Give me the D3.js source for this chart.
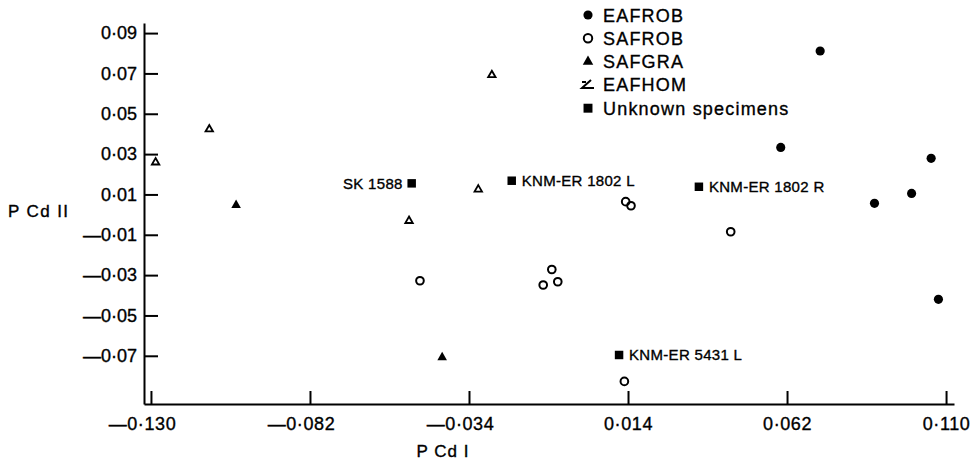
<!DOCTYPE html>
<html>
<head>
<meta charset="utf-8">
<script src="https://cdn.jsdelivr.net/npm/d3@7"></script>
<style>
  body { margin: 0; background: #fff; }
  text { font-family: "Liberation Sans", Arial, sans-serif; fill: #000; stroke: #000; stroke-width: 0.35px; }
  .axis path, .axis line { stroke: #000; stroke-width: 2; }
</style>
</head>
<body>
<div id="chart"></div>
<script>
// values: [P Cd I, P Cd II]
const eafrob = [[0.0720, 0.0811], [0.0601, 0.0333], [0.1055, 0.0279], [0.0996, 0.0105], [0.0884, 0.0056], [0.1077, -0.0420]];
const safrob = [[0.0133, 0.0064], [0.0149, 0.0044], [-0.0488, -0.0328], [-0.0090, -0.0272], [-0.0116, -0.0349], [-0.0072, -0.0333], [0.0450, -0.0085], [0.0129, -0.0827]];
const safgra = [[-0.1043, 0.0047], [-0.0421, -0.0708]];
const eafhom = [[-0.1286, 0.0259], [-0.1124, 0.0423], [-0.0271, 0.0692], [-0.0312, 0.0125], [-0.0521, -0.0031]];

const unknownNames = ["SK 1588", "KNM-ER 1802 L", "KNM-ER 1802 R", "KNM-ER 5431 L"];
const unknownX = [-0.0513, -0.0211, 0.0354, 0.0113];
const unknownY = [0.0155, 0.0168, 0.0138, -0.0696];

const xTicks = [-0.130, -0.082, -0.034, 0.014, 0.062, 0.110];
const yTicks = [0.09, 0.07, 0.05, 0.03, 0.01, -0.01, -0.03, -0.05, -0.07];
const legendNames = ["EAFROB", "SAFROB", "SAFGRA", "EAFHOM", "Unknown specimens"];

const width = 978, height = 465;

const xScale = d3.scaleLinear().domain([-0.1321, 0.1124]).range([144, 954]);
const yScale = d3.scaleLinear().domain([-0.0939, 0.095]).range([404, 23]);

// old-style labels: centred dot and long dash
function fmt(v, digits) {
    const s = Math.abs(v).toFixed(digits).replace(".", "\u00b7");
    return v < 0 ? "\u2014" + s : s;
}

const svg = d3.select("#chart").append("svg")
    .attr("width", width)
    .attr("height", height);

// axes, ticks pointing inward
svg.append("g")
    .attr("class", "axis")
    .attr("transform", `translate(0,${yScale.range()[0]})`)
    .call(d3.axisBottom(xScale).tickValues(xTicks).tickSizeInner(-13).tickSizeOuter(0)
        .tickPadding(13).tickFormat(d => fmt(d, 3)))
    .call(g => g.selectAll("text")
        .attr("font-size", 18)
        .attr("font-family", null)
        .attr("dx", d => d < 0 ? -9 : 0)   // digits sit on the tick, the dash hangs left
        .style("letter-spacing", "0.6px"));

svg.append("g")
    .attr("class", "axis")
    .attr("transform", `translate(${xScale.range()[0]},0)`)
    .call(d3.axisLeft(yScale).tickValues(yTicks).tickSizeInner(-14).tickSizeOuter(0)
        .tickPadding(7).tickFormat(d => fmt(d, 2)))
    .call(g => g.selectAll("text").attr("font-size", 18).attr("font-family", null));

svg.append("text")
    .attr("x", 443)
    .attr("y", 457)
    .attr("text-anchor", "middle")
    .attr("font-size", 17)
    .style("letter-spacing", "1px")
    .text("P Cd I");

svg.append("text")
    .attr("x", 8)
    .attr("y", 217)
    .attr("font-size", 17)
    .style("letter-spacing", "1.4px")
    .text("P Cd II");

// points
const circle = d3.symbol().type(d3.symbolCircle);
const triangle = d3.symbol().type(d3.symbolTriangle);
const square = d3.symbol().type(d3.symbolSquare);

svg.append("g").selectAll("path")
    .data(eafrob)
    .join("path")
    .attr("transform", d => `translate(${xScale(d[0])},${yScale(d[1])})`)
    .attr("d", circle.size(66)())
    .attr("fill", "#000");

svg.append("g").selectAll("path")
    .data(safrob)
    .join("path")
    .attr("transform", d => `translate(${xScale(d[0])},${yScale(d[1])})`)
    .attr("d", circle.size(46)())
    .attr("fill", "none")
    .attr("stroke", "#000")
    .attr("stroke-width", 2);

svg.append("g").selectAll("path")
    .data(safgra)
    .join("path")
    .attr("transform", d => `translate(${xScale(d[0])},${yScale(d[1])})`)
    .attr("d", triangle.size(40)())
    .attr("fill", "#000");

svg.append("g").selectAll("path")
    .data(eafhom)
    .join("path")
    .attr("transform", d => `translate(${xScale(d[0])},${yScale(d[1])})`)
    .attr("d", triangle.size(24)())
    .attr("fill", "none")
    .attr("stroke", "#000")
    .attr("stroke-width", 1.8);

const unknown = unknownNames.map((name, i) => ({ name, x: unknownX[i], y: unknownY[i] }));

svg.append("g").selectAll("path")
    .data(unknown)
    .join("path")
    .attr("transform", d => `translate(${xScale(d.x)},${yScale(d.y)})`)
    .attr("d", square.size(72)())
    .attr("fill", "#000");

svg.append("g").selectAll("text")
    .data(unknown)
    .join("text")
    .attr("x", (d, i) => xScale(d.x) + (i === 0 ? -9 : 10))
    .attr("y", d => yScale(d.y) + 5.5)
    .attr("text-anchor", (d, i) => i === 0 ? "end" : "start")
    .attr("font-size", 15)
    .style("letter-spacing", "0.3px")
    .text(d => d.name);

// legend
const legend = svg.append("g").attr("transform", "translate(588,15)");
const rowGap = 23.3;

legend.selectAll("text")
    .data(legendNames)
    .join("text")
    .attr("x", 15)
    .attr("y", (d, i) => i * rowGap + 6.5)
    .attr("font-size", 18)
    .style("letter-spacing", "1.2px")
    .text(d => d);

legend.append("path")
    .attr("d", circle.size(66)())
    .attr("fill", "#000");

legend.append("path")
    .attr("transform", `translate(0,${rowGap})`)
    .attr("d", circle.size(56)())
    .attr("fill", "none")
    .attr("stroke", "#000")
    .attr("stroke-width", 2);

legend.append("path")
    .attr("transform", `translate(0,${rowGap * 2})`)
    .attr("d", triangle.size(48)())
    .attr("fill", "#000");

// the broken-triangle glyph used for EAFHOM in the key
legend.append("path")
    .attr("transform", `translate(0,${rowGap * 3})`)
    .attr("d", "M-6,-3 L-2,-3 M3,-5 L-6,3 L6,3")
    .attr("fill", "none")
    .attr("stroke", "#000")
    .attr("stroke-width", 2);

legend.append("path")
    .attr("transform", `translate(0,${rowGap * 4})`)
    .attr("d", square.size(80)())
    .attr("fill", "#000");
</script>
</body>
</html>
